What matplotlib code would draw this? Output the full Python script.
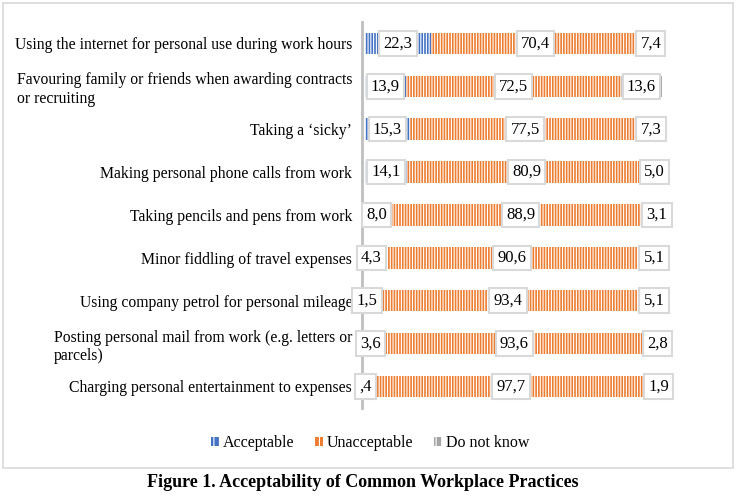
import matplotlib
matplotlib.use('Agg')
import matplotlib.pyplot as plt
from matplotlib.patches import Rectangle, Patch

plt.rcParams['font.family'] = ['Liberation Serif', 'DejaVu Serif']
plt.rcParams['hatch.linewidth'] = 0.8

# Data (top to bottom)
practices = [
    'Using the internet for personal use during work hours',
    'Favouring family or friends when awarding contracts\nor recruiting',
    "Taking a \u2018sicky\u2019",
    'Making personal phone calls from work',
    'Taking pencils and pens from work',
    'Minor fiddling of travel expenses',
    'Using company petrol for personal mileage',
    'Posting personal mail from work (e.g. letters or\nparcels)',
    'Charging personal entertainment to expenses',
]
acceptable = [22.3, 13.9, 15.3, 14.1, 8.0, 4.3, 1.5, 3.6, 0.4]
unacceptable = [70.4, 72.5, 77.5, 80.9, 88.9, 90.6, 93.4, 93.6, 97.7]
do_not_know = [7.4, 13.6, 7.3, 5.0, 3.1, 5.1, 5.1, 2.8, 1.9]

series = [('Acceptable', acceptable, '#4472C4'),
          ('Unacceptable', unacceptable, '#ED7D31'),
          ('Do not know', do_not_know, '#A5A5A5')]


def fmt(v):
    s = f'{v:.1f}'.replace('.', ',')
    if s.startswith('0'):
        s = s[1:]
    return s


fig = plt.figure(figsize=(7.4, 5.01), dpi=100)
ax = fig.add_axes([0.493, 0.186, 0.401, 0.77])

# spines first (set_position resets the ticks)
for s in ['top', 'right', 'bottom']:
    ax.spines[s].set_visible(False)
ax.spines['left'].set_color('#BFBFBF')
ax.spines['left'].set_linewidth(2)
ax.spines['left'].set_position(('data', -1))

ypos = list(range(len(practices)))
left = [0.0] * len(practices)
for name, vals, col in series:
    ax.barh(ypos, vals, left=left, height=0.5, color=col, edgecolor='white',
            linewidth=0, hatch='||||||', label=name)
    for y, l, v in zip(ypos, left, vals):
        ax.text(l + v / 2, y, fmt(v), ha='center', va='center', fontsize=12,
                zorder=5,
                bbox=dict(boxstyle='square,pad=0.25', facecolor='white',
                          edgecolor='#D9D9D9', linewidth=1.5))
    left = [a + b for a, b in zip(left, vals)]

ax.set_xlim(0, 100)
ax.set_ylim(len(practices) - 0.5, -0.5)
ax.set_xticks([])
ax.set_yticks(ypos)
ax.set_yticklabels(practices, fontsize=11.3)
for t in ax.get_yticklabels():
    t.set_multialignment('left')
ax.tick_params(axis='y', length=0, pad=7)

handles = [Patch(facecolor=c, edgecolor='white', hatch='|||', linewidth=0, label=n)
           for n, _, c in series]
fig.legend(handles=handles, loc='center', bbox_to_anchor=(0.5, 0.116), ncol=3,
           frameon=False, fontsize=11.5, handlelength=0.5, handleheight=0.5,
           handletextpad=0.25, columnspacing=1.3)

# chart border
fig.patches.append(Rectangle((3 / 740, 33 / 501), 730 / 740, 465 / 501,
                             transform=fig.transFigure, fill=False,
                             edgecolor='#D9D9D9', linewidth=1.2))

fig.text(0.49, 0.036, 'Figure 1. Acceptability of Common Workplace Practices',
         ha='center', va='center', fontsize=13, fontweight='bold')

fig.savefig('out.png', dpi=100)
